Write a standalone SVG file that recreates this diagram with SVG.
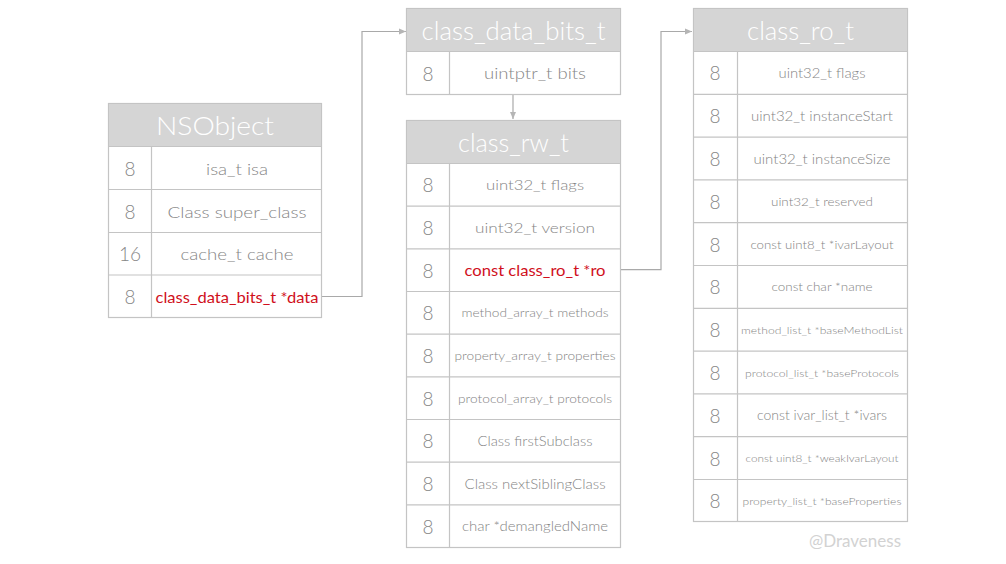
<svg xmlns="http://www.w3.org/2000/svg" width="1006" height="564" viewBox="0 0 1006 564">
<style>
.hdr{fill:#d5d5d5;stroke:#c4c4c4;stroke-width:1}
.box{fill:#ffffff;stroke:#c4c4c4;stroke-width:1.2}
.ln{stroke:#c4c4c4;stroke-width:1.2;fill:none}
.ht{font-family:Lato,"Open Sans",sans-serif;font-weight:300;font-size:26px;fill:#ffffff;text-anchor:middle;dominant-baseline:central}
.num{font-family:Lato,"Open Sans",sans-serif;font-weight:300;font-size:19px;fill:#858585;text-anchor:middle;dominant-baseline:central}
.t{font-family:Lato,"Open Sans",sans-serif;font-weight:300;fill:#858585;text-anchor:middle;dominant-baseline:central}
.red{fill:#d0101c;font-weight:400}
.conn{stroke:#a9a9a9;stroke-width:1.2;fill:none}
.wm{font-family:Lato,"Open Sans",sans-serif;font-size:17px;fill:#d2d2d2;text-anchor:middle;dominant-baseline:central}
</style>
<defs>
<marker id="ah" markerWidth="8" markerHeight="8" refX="7" refY="4" orient="auto" markerUnits="userSpaceOnUse">
<path d="M0,1 L7,4 L0,7 Z" fill="#b5b5b5"/>
</marker>
</defs>
<rect width="1006" height="564" fill="#ffffff"/>

<g id="connectors">
<polyline class="conn" points="322,296.5 362,296.5 362,31.5 406,31.5" marker-end="url(#ah)"/>
<polyline class="conn" points="513,95 513,119" marker-end="url(#ah)"/>
<polyline class="conn" points="621,269.7 661,269.7 661,31.5 692,31.5" marker-end="url(#ah)"/>
</g>

<g id="NSObject">
<rect class="box" x="108.5" y="103.5" width="213" height="214"/>
<rect class="hdr" x="108.5" y="103.5" width="213" height="43"/>
<text class="ht" x="215" y="125" textLength="118" lengthAdjust="spacingAndGlyphs">NSObject</text>
<line class="ln" x1="151.5" y1="146.5" x2="151.5" y2="317.5"/>
<line class="ln" x1="108.5" y1="189.5" x2="321.5" y2="189.5"/>
<line class="ln" x1="108.5" y1="232.5" x2="321.5" y2="232.5"/>
<line class="ln" x1="108.5" y1="275" x2="321.5" y2="275"/>
<text class="num" x="130" y="168">8</text>
<text class="num" x="130" y="211">8</text>
<text class="num" x="130" y="253.5">16</text>
<text class="num" x="130" y="296.5">8</text>
<text class="t" x="237" y="168" font-size="16" textLength="62" lengthAdjust="spacingAndGlyphs">isa_t isa</text>
<text class="t" x="237" y="211" font-size="16" textLength="139" lengthAdjust="spacingAndGlyphs">Class super_class</text>
<text class="t" x="237" y="253.5" font-size="16" textLength="113" lengthAdjust="spacingAndGlyphs">cache_t cache</text>
<text class="t red" x="237" y="296.5" font-size="15" textLength="163" lengthAdjust="spacingAndGlyphs">class_data_bits_t *data</text>
</g>

<g id="class_data_bits_t">
<rect class="box" x="406.5" y="8.5" width="214" height="86"/>
<rect class="hdr" x="406.5" y="8.5" width="214" height="43"/>
<text class="ht" x="513.5" y="30" textLength="184" lengthAdjust="spacingAndGlyphs">class_data_bits_t</text>
<line class="ln" x1="449.5" y1="51.5" x2="449.5" y2="94.5"/>
<text class="num" x="428" y="73">8</text>
<text class="t" x="535" y="73" font-size="15" textLength="102" lengthAdjust="spacingAndGlyphs">uintptr_t bits</text>
</g>

<g id="class_rw_t">
<rect class="box" x="406.5" y="120.5" width="214" height="427"/>
<rect class="hdr" x="406.5" y="120.5" width="214" height="43"/>
<text class="ht" x="513.5" y="142" textLength="111" lengthAdjust="spacingAndGlyphs">class_rw_t</text>
<line class="ln" x1="449.5" y1="163.5" x2="449.5" y2="547.5"/>
<line class="ln" x1="406.5" y1="206.2" x2="620.5" y2="206.2"/>
<line class="ln" x1="406.5" y1="248.8" x2="620.5" y2="248.8"/>
<line class="ln" x1="406.5" y1="291.5" x2="620.5" y2="291.5"/>
<line class="ln" x1="406.5" y1="334.2" x2="620.5" y2="334.2"/>
<line class="ln" x1="406.5" y1="376.8" x2="620.5" y2="376.8"/>
<line class="ln" x1="406.5" y1="419.5" x2="620.5" y2="419.5"/>
<line class="ln" x1="406.5" y1="462.2" x2="620.5" y2="462.2"/>
<line class="ln" x1="406.5" y1="504.8" x2="620.5" y2="504.8"/>
<text class="num" x="428" y="184.8">8</text>
<text class="num" x="428" y="227.5">8</text>
<text class="num" x="428" y="270.2">8</text>
<text class="num" x="428" y="312.8">8</text>
<text class="num" x="428" y="355.5">8</text>
<text class="num" x="428" y="398.2">8</text>
<text class="num" x="428" y="440.8">8</text>
<text class="num" x="428" y="483.5">8</text>
<text class="num" x="428" y="526.2">8</text>
<text class="t" x="535" y="184.8" font-size="14" textLength="98" lengthAdjust="spacingAndGlyphs">uint32_t flags</text>
<text class="t" x="535" y="227.5" font-size="14" textLength="120" lengthAdjust="spacingAndGlyphs">uint32_t version</text>
<text class="t red" x="535" y="270.2" font-size="15" textLength="141" lengthAdjust="spacingAndGlyphs">const class_ro_t *ro</text>
<text class="t" x="535" y="312.8" font-size="12" textLength="147" lengthAdjust="spacingAndGlyphs">method_array_t methods</text>
<text class="t" x="535" y="355.5" font-size="12" textLength="161" lengthAdjust="spacingAndGlyphs">property_array_t properties</text>
<text class="t" x="535" y="398.2" font-size="12" textLength="154" lengthAdjust="spacingAndGlyphs">protocol_array_t protocols</text>
<text class="t" x="535" y="440.8" font-size="13" textLength="115" lengthAdjust="spacingAndGlyphs">Class firstSubclass</text>
<text class="t" x="535" y="483.5" font-size="13" textLength="141" lengthAdjust="spacingAndGlyphs">Class nextSiblingClass</text>
<text class="t" x="535" y="526.2" font-size="13" textLength="146" lengthAdjust="spacingAndGlyphs">char *demangledName</text>
</g>

<g id="class_ro_t">
<rect class="box" x="693.5" y="8.5" width="214" height="513"/>
<rect class="hdr" x="693.5" y="8.5" width="214" height="43"/>
<text class="ht" x="800.5" y="30" textLength="107" lengthAdjust="spacingAndGlyphs">class_ro_t</text>
<line class="ln" x1="737.5" y1="51.5" x2="737.5" y2="521.5"/>
<line class="ln" x1="693.5" y1="94.3" x2="907.5" y2="94.3"/>
<line class="ln" x1="693.5" y1="137.1" x2="907.5" y2="137.1"/>
<line class="ln" x1="693.5" y1="179.9" x2="907.5" y2="179.9"/>
<line class="ln" x1="693.5" y1="222.7" x2="907.5" y2="222.7"/>
<line class="ln" x1="693.5" y1="265.5" x2="907.5" y2="265.5"/>
<line class="ln" x1="693.5" y1="308.3" x2="907.5" y2="308.3"/>
<line class="ln" x1="693.5" y1="351.1" x2="907.5" y2="351.1"/>
<line class="ln" x1="693.5" y1="393.9" x2="907.5" y2="393.9"/>
<line class="ln" x1="693.5" y1="436.7" x2="907.5" y2="436.7"/>
<line class="ln" x1="693.5" y1="479.5" x2="907.5" y2="479.5"/>
<text class="num" x="715" y="72.9">8</text>
<text class="num" x="715" y="115.7">8</text>
<text class="num" x="715" y="158.5">8</text>
<text class="num" x="715" y="201.3">8</text>
<text class="num" x="715" y="244.1">8</text>
<text class="num" x="715" y="286.9">8</text>
<text class="num" x="715" y="329.7">8</text>
<text class="num" x="715" y="372.5">8</text>
<text class="num" x="715" y="415.3">8</text>
<text class="num" x="715" y="458.1">8</text>
<text class="num" x="715" y="500.9">8</text>
<text class="t" x="822" y="72.9" font-size="13" textLength="87" lengthAdjust="spacingAndGlyphs">uint32_t flags</text>
<text class="t" x="822" y="115.7" font-size="13" textLength="142" lengthAdjust="spacingAndGlyphs">uint32_t instanceStart</text>
<text class="t" x="822" y="158.5" font-size="13" textLength="137" lengthAdjust="spacingAndGlyphs">uint32_t instanceSize</text>
<text class="t" x="822" y="201.3" font-size="12" textLength="102" lengthAdjust="spacingAndGlyphs">uint32_t reserved</text>
<text class="t" x="822" y="244.1" font-size="12" textLength="143" lengthAdjust="spacingAndGlyphs">const uint8_t *ivarLayout</text>
<text class="t" x="822" y="286.9" font-size="12" textLength="101" lengthAdjust="spacingAndGlyphs">const char *name</text>
<text class="t" x="822" y="329.7" font-size="10" textLength="162" lengthAdjust="spacingAndGlyphs">method_list_t *baseMethodList</text>
<text class="t" x="822" y="372.5" font-size="10" textLength="154" lengthAdjust="spacingAndGlyphs">protocol_list_t *baseProtocols</text>
<text class="t" x="822" y="415.3" font-size="13" textLength="130" lengthAdjust="spacingAndGlyphs">const ivar_list_t *ivars</text>
<text class="t" x="822" y="458.1" font-size="10" textLength="153" lengthAdjust="spacingAndGlyphs">const uint8_t *weakIvarLayout</text>
<text class="t" x="822" y="500.9" font-size="10" textLength="159" lengthAdjust="spacingAndGlyphs">property_list_t *baseProperties</text>
</g>

<text class="wm" x="855" y="540">@Draveness</text>
</svg>
